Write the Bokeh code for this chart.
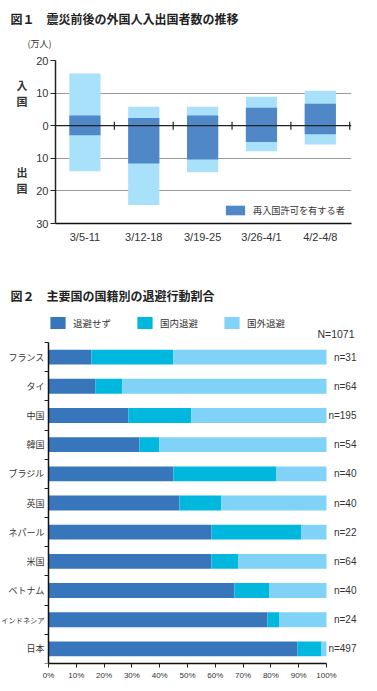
import numpy as np
from bokeh.plotting import figure
from bokeh.layouts import column
from bokeh.models import (Range1d, FixedTicker, LinearAxis, Title, Label, LabelSet,
                          ColumnDataSource, Legend, LegendItem, Span, PrintfTickFormatter)
from bokeh.embed import file_html
from bokeh.resources import INLINE
from bokeh.core.properties import value

# ---------------- Figure 1 data (万人) ----------------
weeks = ["3/5-11", "3/12-18", "3/19-25", "3/26-4/1", "4/2-4/8"]
entry_total = [16.0, 5.8, 5.8, 8.9, 10.7]
entry_reentry = [3.1, 2.4, 3.1, 5.5, 6.7]
exit_total = [14.0, 24.3, 14.3, 7.8, 5.8]
exit_reentry = [2.9, 11.6, 10.4, 5.0, 2.6]
y1_ticks = [20, 10, 0, -10, -20, -30]
y1_grid = [20, 10, -10, -20]

# ---------------- Figure 2 data (%) ----------------
countries = ["フランス", "タイ", "中国", "韓国", "ブラジル", "英国",
             "ネパール", "米国", "ベトナム", "インドネシア", "日本"]
stay = [15.4, 16.8, 28.7, 32.7, 44.9, 47.1, 58.6, 58.6, 66.9, 78.8, 89.6]
domestic = [29.5, 9.7, 22.7, 7.2, 37.1, 15.1, 32.4, 9.7, 12.6, 4.3, 8.6]
abroad = [55.1, 73.5, 48.6, 60.1, 18.0, 37.8, 9.0, 31.7, 20.5, 16.9, 1.8]
counts = [31, 64, 195, 54, 40, 40, 22, 64, 40, 24, 497]
total_n = 1071
pct_ticks = list(range(0, 101, 10))

JP = "Noto Sans CJK JP"
NUM = "Liberation Sans"
W = 377


def no_frame_align(p):
    try:
        p.frame_align = False
    except Exception:
        pass


def bare_axis(ax):
    ax.axis_line_color = None
    ax.major_tick_out = 0
    ax.major_tick_in = 0
    ax.minor_tick_out = 0
    ax.minor_tick_in = 0


# ======================= Figure 1 =======================
H1 = 270
p1 = figure(width=W, height=H1, output_backend="svg", toolbar_location=None, title=None,
            x_range=Range1d(0, len(weeks) + 0.03), y_range=Range1d(-30, 20),
            min_border_left=55, min_border_right=26, min_border_top=60, min_border_bottom=47)
no_frame_align(p1)
p1.outline_line_color = None
p1.xgrid.visible = False
p1.ygrid.ticker = FixedTicker(ticks=y1_grid)
p1.ygrid.grid_line_color = "#9a9a9a"
p1.ygrid.grid_line_width = 1

LIGHT1 = "#a9e0fa"
DARK1 = "#4f87c7"
xc = [float(i) + 0.5 for i in range(len(weeks))]
bw = 0.53
p1.vbar(x=xc, bottom=0, top=entry_total, width=bw, fill_color=LIGHT1, line_color=None)
r_dark = p1.vbar(x=xc, bottom=0, top=entry_reentry, width=bw, fill_color=DARK1, line_color=None)
p1.vbar(x=xc, top=0, bottom=[-v for v in exit_total], width=bw, fill_color=LIGHT1, line_color=None)
p1.vbar(x=xc, top=0, bottom=[-v for v in exit_reentry], width=bw, fill_color=DARK1, line_color=None)

p1.add_layout(Span(location=0, dimension="width", line_color="#222222", line_width=1.3))
bounds = [float(i) for i in range(1, len(weeks) + 1)]
p1.scatter(x=bounds, y=[0] * len(bounds), marker="dash", angle=np.pi / 2, size=8,
           line_color="#222222", line_width=1.2)

ya = p1.yaxis[0]
ya.ticker = FixedTicker(ticks=y1_ticks)
ya.major_label_overrides = {t: str(abs(t)) for t in y1_ticks}
ya.axis_line_color = "#222222"
ya.axis_line_width = 1.5
ya.major_tick_out = 5
ya.major_tick_in = 0
ya.minor_tick_out = 0
ya.minor_tick_in = 0
ya.major_tick_line_color = "#222222"
ya.major_label_standoff = 2
ya.major_label_text_font = NUM
ya.major_label_text_font_size = "11px"
ya.major_label_text_color = "#333333"

# outer left axis carrying the vertical 入国 / 出国 captions
side_pos = [10.0, -16.7]
side_txt = ["入\n国", "出\n国"]
ya_side = LinearAxis(ticker=FixedTicker(ticks=side_pos),
                     major_label_overrides={v: t for v, t in zip(side_pos, side_txt)})
bare_axis(ya_side)
ya_side.major_label_standoff = 6
ya_side.major_label_text_font = JP
ya_side.major_label_text_font_size = "11px"
ya_side.major_label_text_font_style = "bold"
ya_side.major_label_text_color = "#333333"
ya_side.major_label_text_line_height = 1.0
p1.add_layout(ya_side, "left")

xa = p1.xaxis[0]
xa.ticker = FixedTicker(ticks=xc)
xa.major_label_overrides = {x: w for x, w in zip(xc, weeks)}
xa.axis_line_color = "#111111"
xa.axis_line_width = 1.5
xa.major_tick_out = 0
xa.major_tick_in = 0
xa.minor_tick_out = 0
xa.minor_tick_in = 0
xa.major_label_standoff = 7
xa.major_label_text_font = NUM
xa.major_label_text_font_size = "11px"
xa.major_label_text_color = "#333333"

leg1 = Legend(items=[LegendItem(label="再入国許可を有する者", renderers=[r_dark])],
              location=(168, 6), glyph_width=24, glyph_height=12, label_height=12,
              label_standoff=6, padding=0, margin=0, border_line_color=None,
              background_fill_alpha=0, label_text_font=JP, label_text_font_size="9.2px",
              label_text_color="#333333")
p1.add_layout(leg1)

p1.add_layout(Title(text="(万人)", align="left", offset=-28, vertical_align="middle",
                    standoff=19, text_font=JP, text_font_size="9px",
                    text_font_style="normal", text_color="#333333"), "above")
p1.add_layout(Title(text="図１　震災前後の外国人入出国者数の推移", align="left", offset=-45,
                    vertical_align="bottom", standoff=0, text_font=JP, text_font_size="12px",
                    text_font_style="bold", text_color="#222222"), "above")

# ======================= Figure 2 =======================
# The frame covers the whole upper/left area so that title, legend and
# country names sit inside it; the bar region is 0..100 % and 11 rows.
H2 = 691 - H1
BL, BR = 48, 326           # pixel columns of 0 % and 100 %
ROWS_TOP = 72              # pixel row (in this figure) of the first category boundary
FB = 28                    # bottom border for the % axis
FRAME_W = W - 10
FRAME_H = H2 - FB
px_per_pct = (BR - BL) / 100.0
ncat = len(countries)
x_start = -BL / px_per_pct
x_end = (FRAME_W - BL) / px_per_pct
y_end = ncat * FRAME_H / (FRAME_H - ROWS_TOP)

p2 = figure(width=W, height=H2, output_backend="svg", toolbar_location=None, title=None,
            x_range=Range1d(x_start, x_end), y_range=Range1d(0, y_end),
            y_axis_location="right",
            min_border_left=0, min_border_right=10, min_border_top=0, min_border_bottom=FB)
no_frame_align(p2)
p2.outline_line_color = None
p2.grid.visible = False

C_STAY = "#3876bb"
C_DOM = "#00b8de"
C_ABR = "#80d3f6"
yc = [ncat - i - 0.5 for i in range(ncat)]
s = np.array(stay)
d = np.array(domestic)
a = np.array(abroad)
bh = 0.51
r1 = p2.hbar(y=yc, left=0, right=s, height=bh, fill_color=C_STAY, line_color=None)
r2 = p2.hbar(y=yc, left=s, right=s + d, height=bh, fill_color=C_DOM, line_color=None)
r3 = p2.hbar(y=yc, left=s + d, right=s + d + a, height=bh, fill_color=C_ABR, line_color=None)

xa2 = p2.xaxis[0]
xa2.bounds = (0, 100)
xa2.ticker = FixedTicker(ticks=pct_ticks)
xa2.formatter = PrintfTickFormatter(format="%d%%")
xa2.axis_line_color = "#111111"
xa2.axis_line_width = 1.5
xa2.major_tick_out = 4
xa2.major_tick_in = 0
xa2.minor_tick_out = 0
xa2.minor_tick_in = 0
xa2.major_tick_line_color = "#222222"
xa2.major_label_standoff = 3
xa2.major_label_text_font = NUM
xa2.major_label_text_font_size = "8px"
xa2.major_label_text_color = "#333333"

# category axis drawn at the 0 % position, ticks between rows
ya2 = p2.yaxis[0]
ya2.fixed_location = 0
ya2.bounds = (0, ncat)
ya2.ticker = FixedTicker(ticks=[], minor_ticks=[float(i) for i in range(ncat + 1)])
ya2.axis_line_color = "#111111"
ya2.axis_line_width = 1.5
ya2.major_tick_out = 0
ya2.major_tick_in = 0
ya2.minor_tick_out = 0
ya2.minor_tick_in = 4
ya2.minor_tick_line_color = "#222222"
ya2.minor_tick_line_width = 1.2

src = ColumnDataSource(dict(
    y=yc,
    x0=[0] * ncat,
    x1=[100] * ncat,
    name=countries,
    fs=["%.1fpx" % min(9.0, 43.0 / len(c)) for c in countries],
    n=["n=%d" % c for c in counts],
))
p2.add_layout(LabelSet(x="x0", y="y", text="name", source=src, x_offset=-4,
                       text_align="right", text_baseline="middle", text_font=value(JP),
                       text_font_size="fs", text_color="#333333"))
p2.add_layout(LabelSet(x="x1", y="y", text="n", source=src, x_offset=30,
                       text_align="right", text_baseline="middle", text_font=value(NUM),
                       text_font_size="10px", text_color="#333333"))

leg2 = Legend(items=[LegendItem(label="退避せず", renderers=[r1]),
                     LegendItem(label="国内退避", renderers=[r2]),
                     LegendItem(label="国外退避", renderers=[r3])],
              orientation="horizontal", location=(BL, FRAME_H - 60), glyph_width=19,
              glyph_height=15, label_height=15, label_standoff=6, spacing=24, padding=0,
              margin=0, border_line_color=None, background_fill_alpha=0, label_text_font=JP,
              label_text_font_size="9.5px", label_text_color="#333333")
p2.add_layout(leg2)

p2.add_layout(Label(x=10, y=FRAME_H - 25, x_units="screen", y_units="screen",
                    text="図２　主要国の国籍別の退避行動割合", text_font=JP,
                    text_font_size="12px", text_font_style="bold", text_color="#222222",
                    text_baseline="middle", text_align="left"))
p2.add_layout(Label(x=354, y=FRAME_H - 63, x_units="screen", y_units="screen",
                    text="N=%d" % total_n, text_font=NUM, text_font_size="10.5px",
                    text_color="#333333", text_baseline="middle", text_align="right"))

layout = column(p1, p2, spacing=0)
open("out.html", "w").write(file_html(layout, INLINE))
